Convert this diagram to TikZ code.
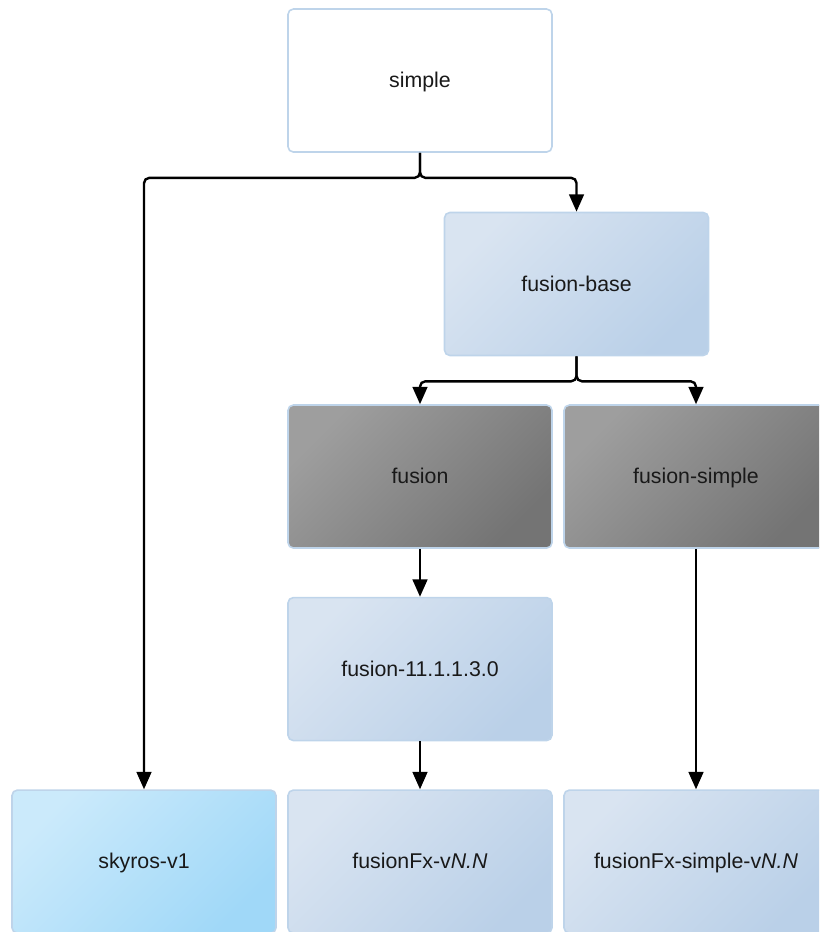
\documentclass[tikz,border=0pt]{standalone}
\usepackage{fontspec}
\setmainfont{Liberation Sans}
\usetikzlibrary{arrows.meta}
\definecolor{edgeblue}{RGB}{190,212,234}
\definecolor{paleA}{RGB}{217,228,241}
\definecolor{paleB}{RGB}{186,208,232}
\definecolor{greyA}{RGB}{158,158,158}
\definecolor{greyB}{RGB}{116,116,116}
\definecolor{skyA}{RGB}{203,234,251}
\definecolor{skyB}{RGB}{160,216,248}
\tikzset{
  box/.style={draw=edgeblue, line width=1.2pt, rounded corners=4pt,
    minimum width=198pt, minimum height=107.25pt, inner sep=0pt,
    text height=11.5pt, text depth=0.5pt,
    font=\fontsize{16}{19}\selectfont, text=black!90},
  pale/.style={top color=paleA, bottom color=paleB, shading angle=45},
  grey/.style={top color=greyA, bottom color=greyB, shading angle=45},
  sky/.style={top color=skyA, bottom color=skyB, shading angle=45},
  link/.style={-{Triangle[length=13pt,width=11pt]}, line width=1.8pt,
    rounded corners=4pt}
}
\begin{document}
\begin{tikzpicture}[node distance=144.4pt]
		\useasboundingbox (0,0) rectangle (614.25pt,-699pt);
		\clip (0,0) rectangle (614.25pt,-699pt);
		\node (s) [box, fill=white] at (315pt,-60.4pt) {simple};
		\node (fb) [box, pale, below of = s, xshift=117.4pt, yshift=-8.2pt] {fusion-base};
		\node (f) [box, grey, below of = fb, xshift=-117.4pt] {fusion};
		\node (fs) [box, grey, below of = fb, xshift=89.6pt] {fusion-simple};
		\node (f11) [box, pale, below of = f] {fusion-11.1.1.3.0};
		\node (fx) [box, pale, below of = f11] {fusionFx-v\textit{N.N}};
		\node (sk) [box, sky, below of = f11, xshift=-207pt] {skyros-v1};
		\node (fxs) [box, pale, below of = f11, xshift=207pt] {fusionFx-simple-v\textit{N.N}};
		\coordinate (j1) at ([yshift=-18.75pt]s.south);
		\coordinate (j2) at ([yshift=-18.75pt]fb.south);
		\draw[link] (s) -- (j1) -| (sk);
		\draw[link] (s) -- (j1) -| (fb);
		\draw[link] (fb) -- (j2) -| (f);
		\draw[link] (fb) -- (j2) -| (fs);
		\draw[link] (f) -- (f11);
		\draw[link] (f11) -- (fx);
		\draw[link] (fs) -- (fxs);
\end{tikzpicture}
\end{document}
